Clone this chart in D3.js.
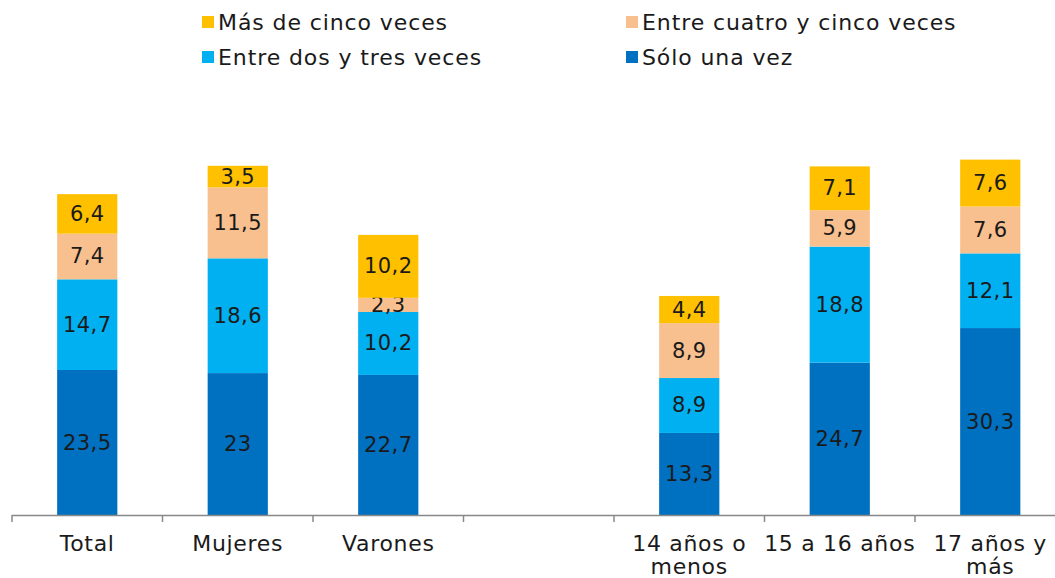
<!DOCTYPE html>
<html><head><meta charset="utf-8">
<script src="https://cdn.jsdelivr.net/npm/d3@7"></script>
<style>body{margin:0;background:#fff;} svg{display:block;font-family:"DejaVu Sans",sans-serif;}</style>
</head><body>
<svg id="c" width="1055" height="578"></svg>
<script>
const categories = ["Total","Mujeres","Varones","","14 años o|menos","15 a 16 años","17 años y|más"];
const seriesNames = ["Sólo una vez","Entre dos y tres veces","Entre cuatro y cinco veces","Más de cinco veces"];
const soloUna = [23.5,23,22.7,null,13.3,24.7,30.3];
const dosTres = [14.7,18.6,10.2,null,8.9,18.8,12.1];
const cuatroCinco = [7.4,11.5,2.3,null,8.9,5.9,7.6];
const masCinco = [6.4,3.5,10.2,null,4.4,7.1,7.6];
const labels = [["23,5","23","22,7",null,"13,3","24,7","30,3"],["14,7","18,6","10,2",null,"8,9","18,8","12,1"],["7,4","11,5","2,3",null,"8,9","5,9","7,6"],["6,4","3,5","10,2",null,"4,4","7,1","7,6"]];
const colors = ["#0070C0","#00B0F0","#F9C08F","#FFC000"];

const svg = d3.select("#c");
const x0 = 12, x1 = 1065.5;
const x = d3.scaleBand().domain(d3.range(categories.length)).range([x0,x1]).paddingInner(0.6).paddingOuter(0.3);
const y = d3.scaleLinear().domain([0,60]).range([515,515-370.2]);
const series = [soloUna,dosTres,cuatroCinco,masCinco];

const rows = categories.map((c,i)=>({i, s0:soloUna[i]||0, s1:dosTres[i]||0, s2:cuatroCinco[i]||0, s3:masCinco[i]||0}));
const stack = d3.stack().keys(["s0","s1","s2","s3"])(rows);

stack.forEach((layer,k)=>{
  const g = svg.append("g");
  g.selectAll("rect").data(layer.filter(d=>series[k][d.data.i]!=null)).join("rect")
    .attr("x",d=>x(d.data.i)).attr("width",x.bandwidth())
    .attr("y",d=>y(d[1])).attr("height",d=>y(d[0])-y(d[1]))
    .attr("fill",colors[k]);
  g.selectAll("text").data(layer.filter(d=>series[k][d.data.i]!=null)).join("text")
    .attr("x",d=>x(d.data.i)+x.bandwidth()/2).attr("y",d=>(y(d[0])+y(d[1]))/2)
    .attr("text-anchor","middle").attr("dominant-baseline","central")
    .attr("font-size",21).attr("letter-spacing",0.4).attr("fill","#1a1a1a")
    .text(d=>labels[k][d.data.i]);
});

// axis
svg.append("line").attr("x1",x0).attr("x2",x1).attr("y1",515.5).attr("y2",515.5).attr("stroke","#888").attr("stroke-width",1.5);
d3.range(categories.length+1).forEach(k=>{
  const xx = x0 + k*((x1-x0)/categories.length);
  svg.append("line").attr("x1",xx).attr("x2",xx).attr("y1",515).attr("y2",522).attr("stroke","#888").attr("stroke-width",1.5);
});
categories.forEach((c,i)=>{
  const lines = c.split("|");
  const t = svg.append("text").attr("text-anchor","middle").attr("font-size",22).attr("letter-spacing",0.7).attr("fill","#1a1a1a");
  lines.forEach((ln,j)=>{
    t.append("tspan").attr("x",x(i)+x.bandwidth()/2).attr("y",551+j*23).text(ln);
  });
});

// legend
const legend = [
  {name:"Más de cinco veces",c:colors[3],x:202,y:22},
  {name:"Entre cuatro y cinco veces",c:colors[2],x:626,y:22},
  {name:"Entre dos y tres veces",c:colors[1],x:202,y:57},
  {name:"Sólo una vez",c:colors[0],x:626,y:57}
];
legend.forEach(l=>{
  svg.append("rect").attr("x",l.x).attr("y",l.y-6).attr("width",12).attr("height",12).attr("fill",l.c);
  svg.append("text").attr("x",l.x+16).attr("y",l.y).attr("dominant-baseline","central").attr("font-size",22).attr("letter-spacing",0.9).attr("fill","#1a1a1a").text(l.name);
});
</script>
</body></html>
